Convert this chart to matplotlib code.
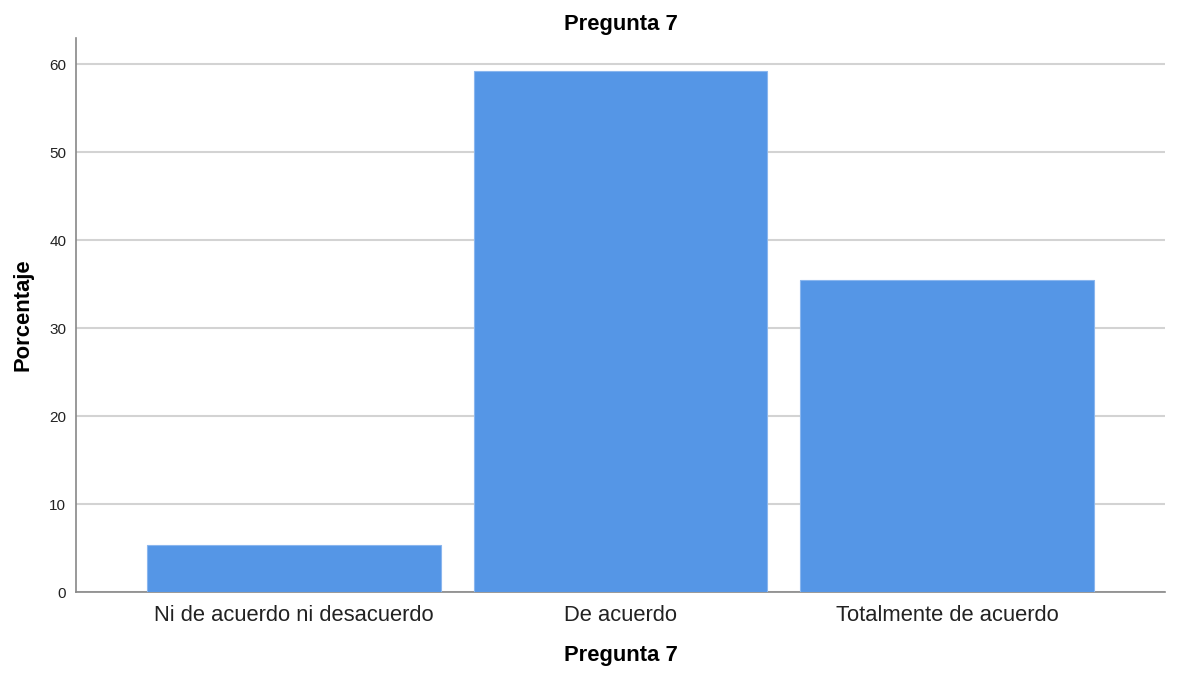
import matplotlib
matplotlib.use("Agg")
import matplotlib.pyplot as plt

categories = ["Ni de acuerdo ni desacuerdo", "De acuerdo", "Totalmente de acuerdo"]
values = [5.3, 59.2, 35.5]
yticks = [0, 10, 20, 30, 40, 50, 60]

plt.rcParams['font.family'] = ['Liberation Sans', 'DejaVu Sans']

fig = plt.figure(figsize=(11.88, 6.79), dpi=100)
ax = fig.add_axes([0.064, 0.128, 0.9166, 0.816])

x = list(range(len(categories)))
ax.bar(x, values, width=0.9, color="#5596E6", edgecolor="#8AB6EE", linewidth=0.8, zorder=3)

ax.set_xlim(-0.667, 2.667)
ax.set_ylim(0, 63.0)
ax.set_yticks(yticks)
ax.set_yticklabels([str(t) for t in yticks], fontsize=11, color="#222222")
ax.set_xticks(x)
ax.set_xticklabels(categories, fontsize=15.8, color="#222222")
ax.tick_params(axis='both', length=0)
ax.tick_params(axis='x', pad=9)
ax.tick_params(axis='y', pad=7)

ax.yaxis.grid(True, color="#D3D3D3", linewidth=1.5, zorder=0)
ax.set_axisbelow(True)

for s in ["top", "right"]:
    ax.spines[s].set_visible(False)
for s in ["left", "bottom"]:
    ax.spines[s].set_color("#888888")
    ax.spines[s].set_linewidth(1.2)

ax.set_title("Pregunta 7", fontsize=15.8, fontweight="bold", pad=6)
ax.set_xlabel("Pregunta 7", fontsize=15.8, fontweight="bold", labelpad=14)
ax.set_ylabel("Porcentaje", fontsize=15.8, fontweight="bold", labelpad=11.5)

fig.savefig("out.png", dpi=100)
